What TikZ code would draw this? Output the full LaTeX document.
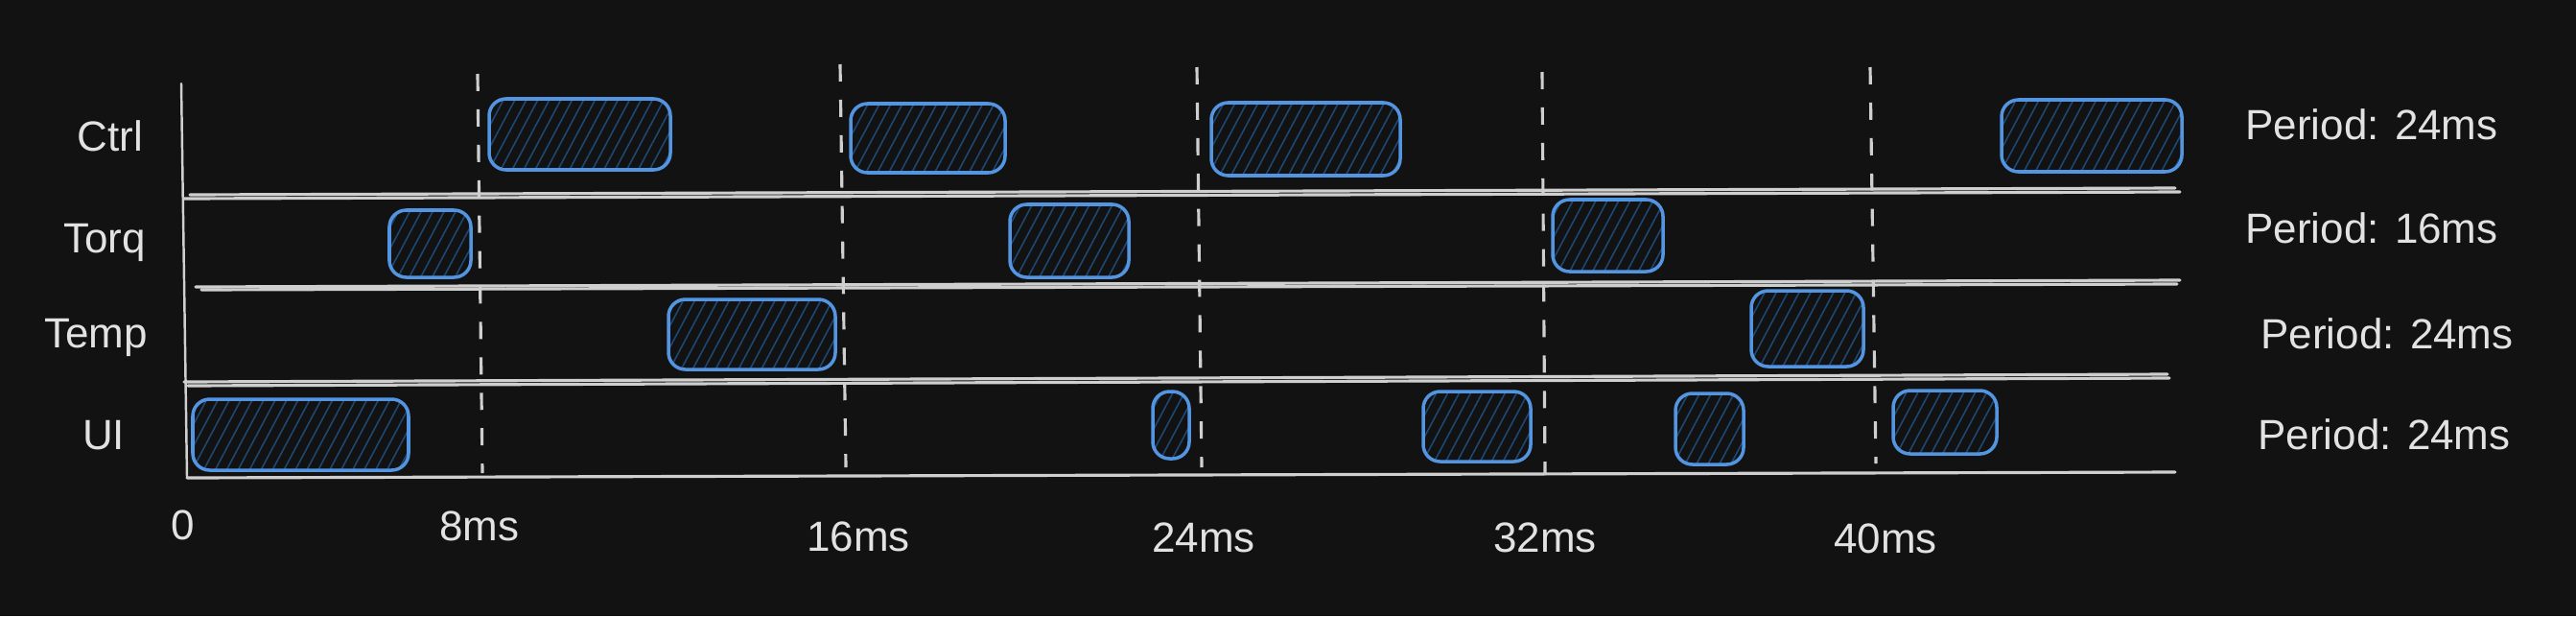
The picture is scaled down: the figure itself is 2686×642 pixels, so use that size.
\documentclass[tikz,border=0pt]{standalone}
\usepackage{fontspec}
\setmainfont{Liberation Sans}
\usetikzlibrary{fit,patterns.meta}
\definecolor{canvas}{HTML}{121212}
\definecolor{ink}{HTML}{E2E2E2}
\definecolor{rule}{HTML}{CFCFCF}
\definecolor{task}{HTML}{5395E0}
\definecolor{hatch}{HTML}{1E4874}
\tikzset{
  job/.style={draw=task,line width=1pt,rounded corners=5pt,inner sep=0pt,pattern={Lines[angle=62,distance=3pt,line width=0.45pt]},pattern color=hatch},
  tag/.style={text=ink,font=\fontsize{12.5}{15}\selectfont,anchor=base,inner sep=0pt},
  lane/.style={draw=rule,line width=0.9pt,line cap=round},
  axisline/.style={draw=rule,line width=0.7pt,line cap=round},
  tick/.style={draw=rule,line width=0.9pt,dash pattern=on 5.1pt off 5.4pt}
}
\begin{document}
\begin{tikzpicture}[x=0.01cm,y=-0.01cm]
    \fill[canvas] (0,0) rectangle (2686,642);
    \useasboundingbox (0,0) rectangle (2686,642);

    \draw[axisline] (189,87) -- (195,497);
    \draw[lane] (195,498) -- (2268,492);
    \draw[lane] (198,203) -- (2268,196);
    \draw[lane] (192,207) -- (2273,200);
    \draw[lane] (204,299) -- (2273,292);
    \draw[lane] (210,302) -- (2270,296);
    \draw[lane] (192,398) -- (2260,390);
    \draw[lane] (196,402) -- (2262,394);

    \draw[tick] (498,77) -- (503,493);
    \draw[tick] (876,67) -- (882,487);
    \draw[tick] (1248,70) -- (1253,487);
    \draw[tick] (1608,75) -- (1611,495);
    \draw[tick] (1950,70) -- (1956,483);

    \node[tag] (ctrl) at (115,157) {Ctrl};
    \node[tag] (torq) at (109,263) {Torq};
    \node[tag] (temp) at (100,362) {Temp};
    \node[tag] (ui) at (108,468) {UI};

    \node[job,fit={(510,103) (699,177)}] (ctrl1) {};
    \node[job,fit={(887,108) (1048,180)}] (ctrl2) {};
    \node[job,fit={(1263,107) (1460,183)}] (ctrl3) {};
    \node[job,fit={(2087,104) (2275,179)}] (ctrl4) {};

    \node[job,fit={(406,219) (491,289)}] (torq1) {};
    \node[job,fit={(1053,213) (1177,289)}] (torq2) {};
    \node[job,fit={(1619,208) (1734,283)}] (torq3) {};

    \node[job,fit={(697,312) (871,385)}] (temp1) {};
    \node[job,fit={(1826,303) (1943,382)}] (temp2) {};

    \node[job,fit={(201,416) (426,490)}] (ui1) {};
    \node[job,fit={(1202,408) (1240,478)}] (ui2) {};
    \node[job,fit={(1484,408) (1596,481)}] (ui3) {};
    \node[job,fit={(1747,410) (1818,484)}] (ui4) {};
    \node[job,fit={(1974,407) (2082,473)}] (ui5) {};

    \node[tag] (ctrlper) at (2473,145) {Period: 24ms};
    \node[tag] (torqper) at (2473,253) {Period: 16ms};
    \node[tag] (tempper) at (2489,363) {Period: 24ms};
    \node[tag] (uiper) at (2486,468) {Period: 24ms};

    \node[tag] (t0) at (191,562) {0};
    \node[tag] (t8) at (500,563) {8ms};
    \node[tag] (t16) at (895,574) {16ms};
    \node[tag] (t24) at (1255,575) {24ms};
    \node[tag] (t32) at (1611,575) {32ms};
    \node[tag] (t40) at (1966,576) {40ms};
  \end{tikzpicture}
\end{document}
